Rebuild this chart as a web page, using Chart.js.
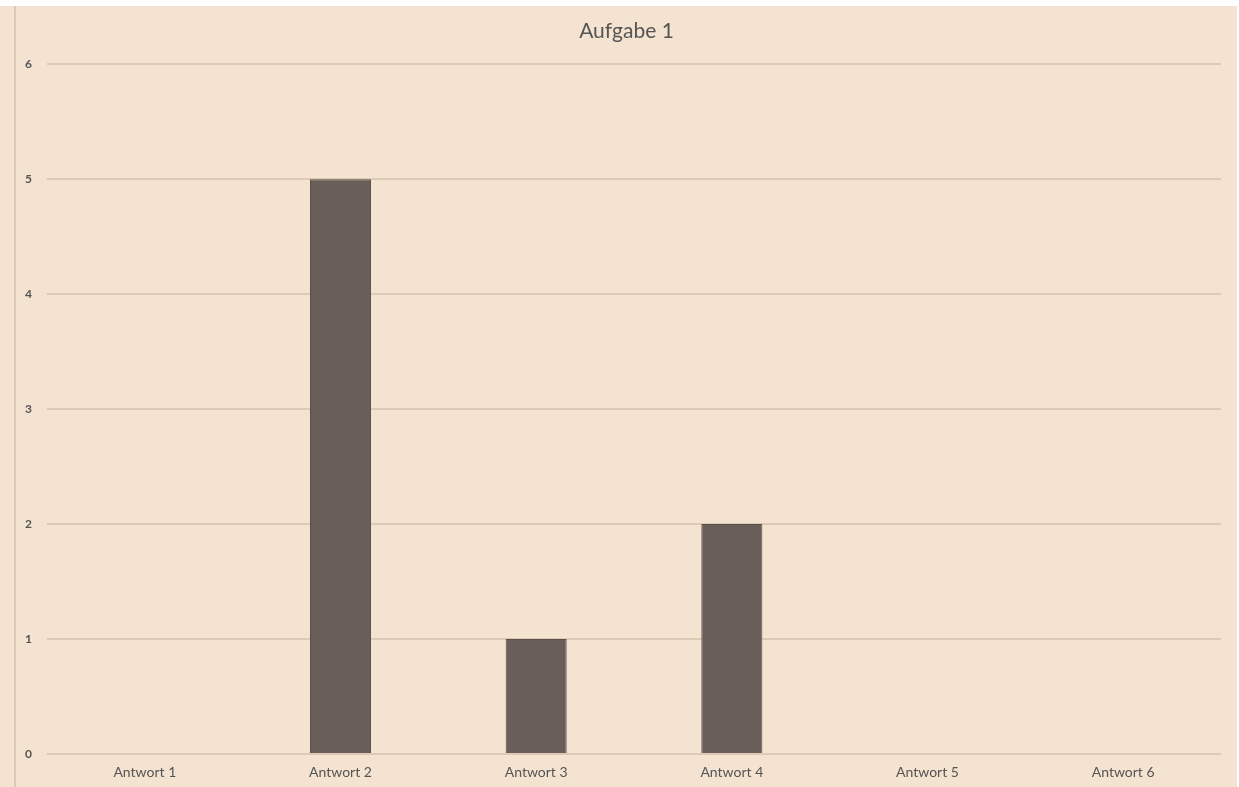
<!DOCTYPE html>
<html>
<head>
<meta charset="utf-8">
<script src="https://cdn.jsdelivr.net/npm/chart.js@4"></script>
<style>
  html, body { margin: 0; padding: 0; background: #ffffff; }
  #frame {
    position: absolute; left: 0; top: 6px;
    width: 1237px; height: 781px;
    background: #f4e3d0;
  }
  #frame::before {
    content: ""; position: absolute; left: 14px; top: 0;
    width: 2px; height: 100%; background: #dccab6;
  }
  #chart { position: absolute; left: 16px; top: 0; }
</style>
</head>
<body>
<div id="frame"><canvas id="chart" width="1221" height="781"></canvas></div>
<script>
// Answer counts for task 1
const chartTitle = "Aufgabe 1";
const answers = ["Antwort 1", "Antwort 2", "Antwort 3", "Antwort 4", "Antwort 5", "Antwort 6"];
const counts = [0, 5, 1, 2, 0, 0];
const yMin = 0;
const yMax = 6;
const yStep = 1;

const labelFont = "Lato, 'Open Sans', sans-serif";
const textGray = "#555555";
const gridTan = "#dccab6";

new Chart(document.getElementById("chart"), {
  type: "bar",
  data: {
    labels: answers,
    datasets: [{
      data: counts,
      backgroundColor: "#695f58",
      borderColor: "#5a514b",
      borderWidth: 1,
      categoryPercentage: 1,
      barPercentage: 0.312
    }]
  },
  options: {
    responsive: false,
    animation: false,
    layout: { padding: { left: 16, right: 16, top: 0, bottom: 0 } },
    plugins: {
      legend: { display: false },
      tooltip: { enabled: false },
      title: {
        display: true,
        text: chartTitle,
        color: textGray,
        font: { family: labelFont, size: 21, weight: "normal" },
        padding: { top: 13, bottom: 20 }
      }
    },
    scales: {
      x: {
        afterFit: (scale) => { scale.height = 33; },
        grid: { display: false, drawTicks: false },
        border: { display: false },
        ticks: {
          color: textGray,
          font: { family: labelFont, size: 14 },
          padding: 10,
          maxRotation: 0
        }
      },
      y: {
        min: yMin,
        max: yMax,
        afterFit: (scale) => { scale.width = 15; },
        grid: { color: gridTan, lineWidth: 2, drawTicks: false },
        border: { display: false },
        ticks: {
          // labels sit left of the narrow axis box, so draw them unclipped
          mirror: true,
          crossAlign: "far",
          padding: -22,
          stepSize: yStep,
          color: textGray,
          font: { family: labelFont, size: 12, weight: "bold" }
        }
      }
    }
  }
});
</script>
</body>
</html>
